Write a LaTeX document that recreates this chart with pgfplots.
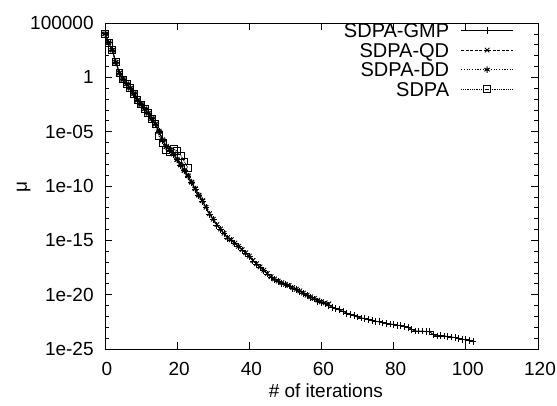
\documentclass[border=0pt]{standalone}
\usepackage{fontspec}
\setmainfont{Liberation Sans}
\usepackage{pgfplots}
\usepackage{pgfplotstable}
\pgfplotsset{compat=1.18}

\pgfplotstableread{
x y
0 1e4
1 1.58e3
2 3.16e2
3 2.51e1
4 2.51
5 6.31e-1
6 2.51e-1
7 1e-1
8 3.16e-2
9 7.94e-3
10 3.16e-3
11 1.26e-3
12 5.01e-4
13 1.58e-4
14 5.01e-5
15 1e-5
16 1.58e-6
17 3.98e-7
18 2.0e-7
19 7.94e-8
20 2.51e-8
21 7.94e-9
22 2.51e-9
23 7.94e-10
24 2.0e-10
25 5.01e-11
26 1.26e-11
27 3.98e-12
28 1e-12
29 2.51e-13
30 7.94e-14
31 2.51e-14
32 1e-14
33 3.98e-15
34 1.58e-15
35 1e-15
36 5.01e-16
37 2.51e-16
38 1.26e-16
39 6.31e-17
40 3.16e-17
41 1.26e-17
42 6.31e-18
43 3.16e-18
44 1.58e-18
45 7.94e-19
46 3.98e-19
47 2.51e-19
48 1.58e-19
49 1.12e-19
50 7.94e-20
51 6.31e-20
52 3.98e-20
53 2.82e-20
54 2.0e-20
55 1.26e-20
56 7.94e-21
57 5.62e-21
58 3.98e-21
59 2.51e-21
60 1.78e-21
61 1.41e-21
62 1e-21
63 7.08e-22
64 5.01e-22
65 3.98e-22
66 2.82e-22
67 2.0e-22
68 1.58e-22
69 1.12e-22
70 8.91e-23
71 7.08e-23
72 6.31e-23
73 5.01e-23
74 3.98e-23
75 3.55e-23
76 3.16e-23
77 2.51e-23
78 2.24e-23
79 2.0e-23
80 1.78e-23
81 1.58e-23
82 1.41e-23
83 1.26e-23
84 1e-23
85 6.31e-24
86 4.47e-24
87 4.47e-24
88 4.47e-24
89 3.98e-24
90 3.98e-24
91 2.0e-24
92 1.58e-24
93 1.78e-24
94 1.58e-24
95 1.41e-24
96 1.26e-24
97 1.12e-24
98 8.91e-25
99 7.94e-25
100 7.08e-25
101 5.62e-25
102 5.01e-25
}\gmp

\pgfplotstableread{
x y
0 1e4
1 1.58e3
2 3.16e2
3 2.51e1
4 2.51
5 6.31e-1
6 2.51e-1
7 1e-1
8 3.16e-2
9 7.94e-3
10 3.16e-3
11 1.26e-3
12 5.01e-4
13 1.58e-4
14 5.01e-5
15 1.12e-5
16 1.78e-6
17 4.47e-7
18 2.24e-7
19 8.91e-8
20 2.82e-8
21 8.91e-9
22 2.82e-9
23 8.91e-10
24 2.24e-10
25 5.62e-11
26 1.41e-11
27 4.47e-12
28 1.12e-12
29 2.82e-13
30 8.91e-14
31 2.82e-14
32 1.12e-14
33 4.47e-15
34 1.78e-15
35 1.12e-15
36 5.62e-16
37 2.82e-16
38 1.41e-16
39 7.08e-17
40 3.55e-17
41 1.41e-17
42 7.08e-18
43 3.55e-18
44 1.78e-18
45 8.91e-19
46 4.47e-19
47 2.82e-19
48 1.78e-19
49 1.26e-19
50 8.91e-20
51 7.08e-20
52 4.47e-20
53 3.16e-20
54 2.24e-20
55 1.41e-20
56 8.91e-21
57 6.31e-21
58 4.47e-21
59 3.16e-21
60 2.24e-21
61 1.78e-21
62 1.41e-21
}\qd

\pgfplotstableread{
x y
0 1e4
1 1.58e3
2 3.16e2
3 2.51e1
4 2.51
5 6.31e-1
6 2.51e-1
7 1e-1
8 3.16e-2
9 7.94e-3
10 3.16e-3
11 1.26e-3
12 5.01e-4
13 1.58e-4
14 5.01e-5
15 1.0e-5
16 1.58e-6
17 3.98e-7
18 2.0e-7
19 7.94e-8
20 2.51e-8
21 7.94e-9
22 2.51e-9
23 7.94e-10
24 2.24e-10
25 5.62e-11
26 1.41e-11
27 4.47e-12
}\dd

\pgfplotstableread{
x y
0 1e4
1 1.58e3
2 3.16e2
3 2.51e1
4 2.51
5 6.31e-1
6 2.51e-1
7 1e-1
8 3.16e-2
9 7.94e-3
10 3.16e-3
11 1.26e-3
12 5.01e-4
13 1.58e-4
14 5.01e-5
15 3.98e-6
16 8.71e-7
17 2.0e-7
18 1.41e-7
19 2.51e-7
20 1.58e-7
21 6.31e-8
22 1.78e-8
23 4.47e-9
}\sdpa

\begin{document}
\fontsize{18.5}{22}\selectfont
\begin{tikzpicture}
\path[use as bounding box] (-105pt,-57pt) rectangle (452pt,349pt);
\begin{axis}[
  scale only axis,
  width=433pt, height=326pt,
  at={(0,0)}, anchor=south west,
  ymode=log,
  xmin=0, xmax=120,
  ymin=1e-25, ymax=1e5,
  xtick={0,20,...,120},
  ytick={1e-25,1e-20,1e-15,1e-10,1e-5,1,1e5},
  yticklabels={1e-25,1e-20,1e-15,1e-10,1e-05,1,100000},
  minor ytick={1e4,1e3,1e2,1e1,1e-1,1e-2,1e-3,1e-4,1e-6,1e-7,1e-8,1e-9,1e-11,1e-12,1e-13,1e-14,1e-16,1e-17,1e-18,1e-19,1e-21,1e-22,1e-23,1e-24},
  /pgf/number format/assume math mode=true,
  tick align=inside,
  xtick pos=both, ytick pos=both,
  major tick length=7pt, minor tick length=4pt,
  every tick/.style={black, line width=0.7pt},
  axis line style={line width=0.8pt},
  tick label style={font=\fontsize{19}{22}\selectfont},
  yticklabel style={xshift=-5pt},
  xticklabel style={yshift=-7pt, xshift=2pt},
  xlabel={\# of iterations},
  ylabel={μ},
  label style={font=\fontsize{19}{22}\selectfont},
  xlabel style={at={(axis description cs:0.51,-0.128)}, anchor=center},
  ylabel style={at={(axis description cs:-0.188,0.497)}, anchor=center},
  legend plot pos=right,
  legend cell align=right,
  legend style={draw=none, fill=none, at={(0.951,1.014)}, anchor=north east,
    font=\fontsize{20}{22}\selectfont,
    column sep=9pt,
    nodes={inner sep=2.5pt, text height=14.6pt, text depth=0pt}},
  legend image code/.code={\draw[mark repeat=2,mark phase=2,#1] plot coordinates {(0pt,0pt) (26pt,0pt) (52pt,0pt)};},
  every axis plot/.append style={line width=0.9pt, black},
]
\addplot[mark=+, mark size=3.4pt, mark options={solid, line width=0.9pt}] table {\gmp};
\addlegendentry{SDPA-GMP}
\addplot[dash pattern=on 3pt off 1.5pt, mark=x, mark size=3.2pt, mark options={solid, line width=0.9pt}] table {\qd};
\addlegendentry{SDPA-QD}
\addplot[dash pattern=on 1.2pt off 1.5pt, mark=asterisk, mark size=3.2pt, mark options={solid, line width=0.9pt}] table {\dd};
\addlegendentry{SDPA-DD}
\addplot[dash pattern=on 1pt off 0.8pt, mark=square, mark size=3.4pt, mark options={solid, line width=0.9pt}] table {\sdpa};
\addlegendentry{SDPA}
\end{axis}
\end{tikzpicture}
\end{document}
